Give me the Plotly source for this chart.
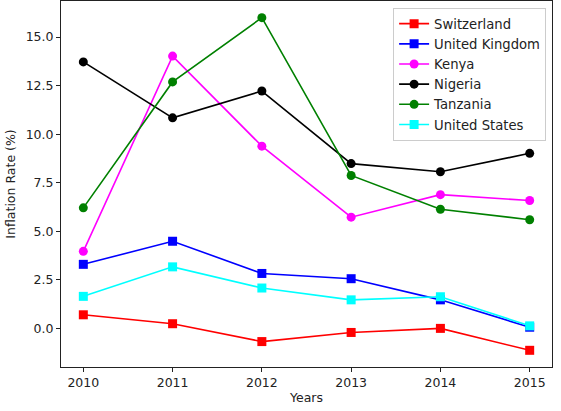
import plotly.graph_objects as go

years = [2010, 2011, 2012, 2013, 2014, 2015]
switzerland = [0.69, 0.23, -0.69, -0.22, -0.01, -1.14]
united_kingdom = [3.29, 4.48, 2.82, 2.55, 1.46, 0.05]
kenya = [3.96, 14.02, 9.38, 5.72, 6.88, 6.58]
nigeria = [13.72, 10.84, 12.22, 8.48, 8.06, 9.01]
tanzania = [6.20, 12.69, 16.00, 7.87, 6.13, 5.59]
united_states = [1.64, 3.16, 2.07, 1.46, 1.62, 0.12]

series = [
    ("Switzerland", switzerland, "#ff0000", "square"),
    ("United Kingdom", united_kingdom, "#0000ff", "square"),
    ("Kenya", kenya, "#ff00ff", "circle"),
    ("Nigeria", nigeria, "#000000", "circle"),
    ("Tanzania", tanzania, "#008000", "circle"),
    ("United States", united_states, "#00ffff", "square"),
]

fig = go.Figure()
for name, vals, color, sym in series:
    fig.add_trace(go.Scatter(
        x=years, y=vals, name=name, mode="lines+markers",
        line=dict(color=color, width=1.6),
        marker=dict(symbol=sym, size=9, color=color, line=dict(width=0)),
    ))

axis_common = dict(
    showline=True, mirror=True, linecolor="#222222", linewidth=1,
    ticks="outside", ticklen=4, tickcolor="#222222", showgrid=False, zeroline=False,
    tickfont=dict(family="DejaVu Sans", size=12.5, color="#222222"),
)

fig.update_layout(
    width=561, height=411,
    margin=dict(l=61, r=9, t=1, b=44),
    paper_bgcolor="white", plot_bgcolor="white",
    font=dict(family="DejaVu Sans", size=12.5, color="#222222"),
    xaxis=dict(range=[2009.75, 2015.25], tickvals=years,
               title=dict(text="Years", standoff=4, font=dict(size=12.5)), **axis_common),
    yaxis=dict(range=[-2.0, 16.86], tickvals=[0, 2.5, 5, 7.5, 10, 12.5, 15], tickformat=".1f",
               title=dict(text="Inflation Rate (%)", standoff=7, font=dict(size=12.5)), **axis_common),
    legend=dict(x=0.988, y=0.982, xanchor="right", yanchor="top",
                bgcolor="rgba(255,255,255,0.8)", bordercolor="#cccccc", borderwidth=1,
                font=dict(size=13.2), tracegroupgap=0, itemwidth=30),
    showlegend=True,
)

fig.write_html("out.html")
